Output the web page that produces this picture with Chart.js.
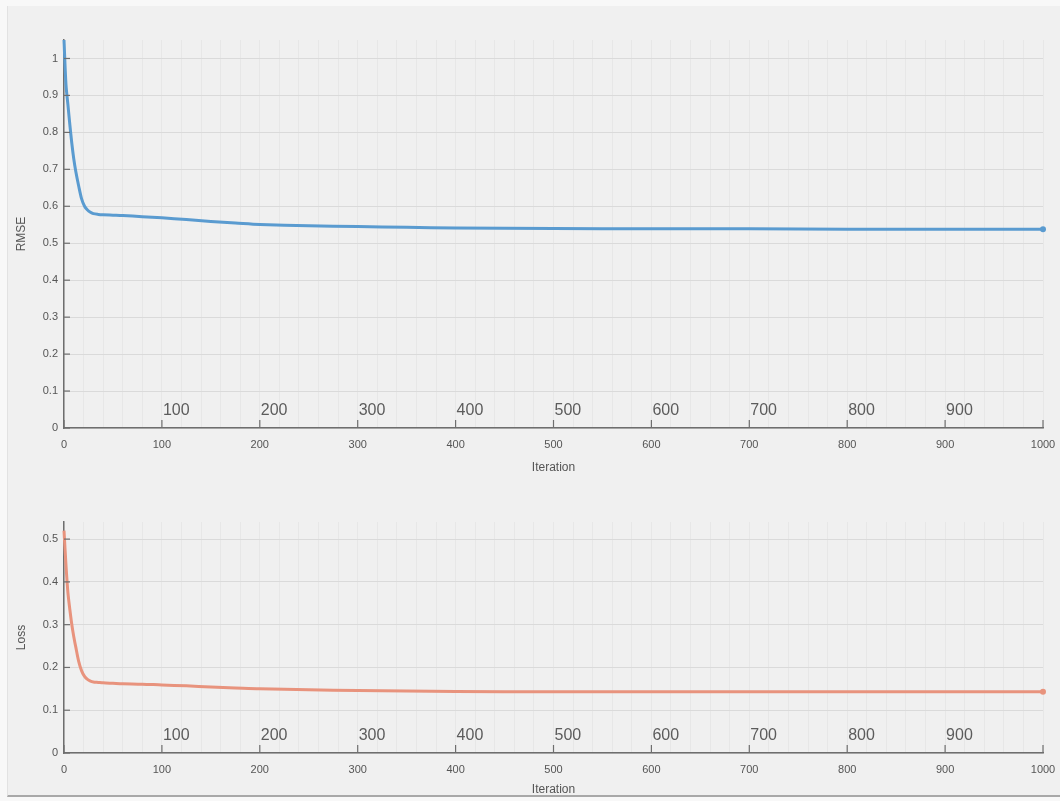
<!DOCTYPE html>
<html>
<head>
<meta charset="utf-8">
<script src="https://cdn.jsdelivr.net/npm/chart.js@4"></script>
<style>
  html, body { margin: 0; padding: 0; background: #f8f8f8; width: 1060px; height: 801px; overflow: hidden; }
  #panel { position: absolute; left: 7px; top: 6px; width: 1053px; height: 789px; background: #f0f0f0; border-left: 1px solid #e2e2e2; border-bottom: 2px solid #a8a8a8; }
  .wrap { position: absolute; left: 0; width: 1060px; }
  #w1 { top: 0; height: 480px; }
  #w2 { top: 480px; height: 321px; }
  canvas { display: block; }
</style>
</head>
<body>
<div id="panel"></div>
<div class="wrap" id="w1"><canvas id="c1" width="1060" height="480"></canvas></div>
<div class="wrap" id="w2"><canvas id="c2" width="1060" height="321"></canvas></div>
<script>
// ---- data ----
const iterations = [0, 2, 4, 6, 8, 10, 12, 15, 18, 21, 24, 27, 30, 35, 40, 50, 60, 80, 100, 125, 150, 175, 200, 250, 300, 350, 400, 500, 600, 700, 800, 900, 1000];
const rmseValues = [1.05, 0.93, 0.875, 0.82, 0.77, 0.728, 0.695, 0.655, 0.62, 0.6, 0.59, 0.584, 0.580, 0.578, 0.577, 0.576, 0.575, 0.572, 0.569, 0.564, 0.559, 0.555, 0.551, 0.547, 0.545, 0.543, 0.541, 0.540, 0.539, 0.539, 0.538, 0.538, 0.538];
const lossValues = [0.52, 0.44, 0.375, 0.335, 0.30, 0.272, 0.248, 0.214, 0.192, 0.179, 0.172, 0.168, 0.166, 0.165, 0.164, 0.163, 0.162, 0.161, 0.159, 0.157, 0.154, 0.152, 0.150, 0.148, 0.146, 0.145, 0.144, 0.143, 0.143, 0.143, 0.143, 0.143, 0.143];
const xMajorTicks = [0, 100, 200, 300, 400, 500, 600, 700, 800, 900, 1000];
const innerLabels = ['100', '200', '300', '400', '500', '600', '700', '800', '900'];
const innerLabelValues = [100, 200, 300, 400, 500, 600, 700, 800, 900];
const rmseTickLabels = ['0', '0.1', '0.2', '0.3', '0.4', '0.5', '0.6', '0.7', '0.8', '0.9', '1'];
const lossTickLabels = ['0', '0.1', '0.2', '0.3', '0.4', '0.5'];

const FONT = "'Liberation Sans', Arial, sans-serif";
const TICK_COLOR = '#555';

// plugin: MATLAB-style inward ticks and inner iteration labels
const matlabDeco = {
  id: 'matlabDeco',
  afterDatasetsDraw(chart) {
    const {ctx, chartArea, scales} = chart;
    const xs = scales.x, ys = scales.y;
    ctx.save();
    ctx.strokeStyle = '#6e6e6e';
    ctx.lineWidth = 1.2;
    ys.ticks.forEach(t => {
      const y = ys.getPixelForValue(t.value);
      ctx.beginPath();
      ctx.moveTo(chartArea.left, y);
      ctx.lineTo(chartArea.left + 6, y);
      ctx.stroke();
    });
    xMajorTicks.forEach(v => {
      const x = xs.getPixelForValue(v);
      ctx.beginPath();
      ctx.moveTo(x, chartArea.bottom);
      ctx.lineTo(x, chartArea.bottom - 8);
      ctx.stroke();
    });
    ctx.fillStyle = '#5c5c5c';
    ctx.font = '16px ' + FONT;
    ctx.textAlign = 'left';
    ctx.textBaseline = 'middle';
    innerLabels.forEach((lab, i) => {
      const x = xs.getPixelForValue(innerLabelValues[i]);
      ctx.fillText(lab, x + 1, chartArea.bottom - 17);
    });
    ctx.restore();
  }
};

function makeChart(id, values, color, yMax, yLabels, yTitle, opts) {
  const last = values.length - 1;
  return new Chart(document.getElementById(id), {
    type: 'line',
    data: {
      labels: iterations,
      datasets: [{
        data: iterations.map((x, i) => ({x: x, y: values[i]})),
        borderColor: color,
        backgroundColor: color,
        borderWidth: 3,
        tension: 0.3,
        pointRadius: ctx => ctx.dataIndex === last ? 3 : 0,
        pointBorderWidth: 0,
        clip: false
      }]
    },
    options: {
      responsive: false,
      animation: false,
      devicePixelRatio: 1,
      layout: { padding: { top: opts.top, right: 17, left: 0, bottom: 0 } },
      plugins: { legend: { display: false }, tooltip: { enabled: false } },
      scales: {
        x: {
          type: 'linear',
          min: 0, max: 1000,
          afterFit: s => { s.height = opts.xHeight; s.paddingLeft = 0; s.paddingRight = 0; },
          afterBuildTicks: s => { s.ticks = []; for (let v = 0; v <= 1000; v += 20) s.ticks.push({value: v}); },
          ticks: {
            autoSkip: false,
            maxRotation: 0,
            padding: 10,
            color: TICK_COLOR,
            font: { family: FONT, size: 11 },
            callback: v => (v % 100 === 0 ? String(v) : '')
          },
          grid: { color: '#e7e7e7', lineWidth: 1, drawTicks: false },
          border: { color: '#6e6e6e', width: 1.5 },
          title: { display: true, text: 'Iteration', color: '#555', font: { family: FONT, size: 12 }, padding: { top: 0, bottom: opts.titlePad } }
        },
        y: {
          min: 0, max: yMax,
          afterFit: s => { s.width = 64; s.paddingTop = 0; s.paddingBottom = 0; },
          ticks: {
            stepSize: 0.1,
            includeBounds: false,
            padding: 6,
            color: TICK_COLOR,
            font: { family: FONT, size: 11 },
            callback: v => { const i = Math.round(v * 10); return (i >= 0 && i < yLabels.length && Math.abs(v * 10 - i) < 1e-6) ? yLabels[i] : ''; }
          },
          grid: { color: '#dadada', lineWidth: 1, drawTicks: false },
          border: { color: '#6e6e6e', width: 1.5 },
          title: { display: true, text: yTitle, color: '#555', font: { family: FONT, size: 12 }, padding: { top: 14, bottom: 0 } }
        }
      }
    },
    plugins: [matlabDeco]
  });
}

makeChart('c1', rmseValues, '#5a9bd0', 1.05, rmseTickLabels, 'RMSE', { top: 40, xHeight: 52, titlePad: 5 });
makeChart('c2', lossValues, '#e8937d', 0.54, lossTickLabels, 'Loss', { top: 42, xHeight: 48, titlePad: 4 });
</script>
</body>
</html>
